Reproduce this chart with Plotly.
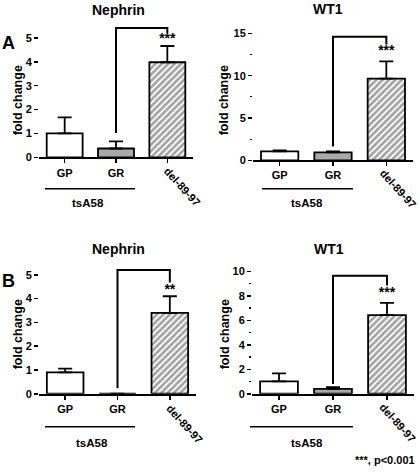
import plotly.graph_objects as go

W, H = 420, 474

# ---------------- data ----------------
categories = ["GP", "GR", "del-89-97"]
group_label = "tsA58"
panel_titles = ["Nephrin", "WT1", "Nephrin", "WT1"]
panel_letters = ["A", "B"]

a_nephrin = [1.00, 0.37, 3.98]
a_nephrin_err = [0.67, 0.30, 0.68]
a_wt1 = [1.05, 0.93, 9.65]
a_wt1_err = [0.11, 0.12, 2.05]
b_nephrin = [0.90, 0.00, 3.40]
b_nephrin_err = [0.16, 0.00, 0.70]
b_wt1 = [1.02, 0.40, 6.43]
b_wt1_err = [0.64, 0.14, 1.00]

# significance bracket heights: left foot (GR), top, right foot (del-89-97)
a_nephrin_bracket = [1.02, 5.41, 5.20]
a_wt1_bracket = [1.63, 14.6, 13.7]
b_nephrin_bracket = [0.23, 5.20, 4.68]
b_wt1_bracket = [0.80, 9.65, 8.85]
star_labels = ["***", "***", "**", "***"]
star_heights = [4.93, 12.9, 4.34, 8.2]

nephrin_ticks = [0, 1, 2, 3, 4, 5]
wt1_a_ticks = [0, 5, 10, 15]
wt1_a_minor = [2.5, 7.5, 12.5]
wt1_b_ticks = [0, 2, 4, 6, 8, 10]
wt1_b_minor = [1, 3, 5, 7, 9]
footnote = "***, p<0.001"

values = [a_nephrin, a_wt1, b_nephrin, b_wt1]
errors = [a_nephrin_err, a_wt1_err, b_nephrin_err, b_wt1_err]
brackets = [a_nephrin_bracket, a_wt1_bracket, b_nephrin_bracket, b_wt1_bracket]
major_ticks = [nephrin_ticks, wt1_a_ticks, nephrin_ticks, wt1_b_ticks]
minor_ticks = [[], wt1_a_minor, [], wt1_b_minor]

# ---------------- layout geometry (pixels) ----------------
# x0, x1, y-zero px, px per unit, range top
geom = [
    (39, 193, 158.0, 24.3, 5.7),
    (253, 413, 161.0, 8.6, 16.0),
    (39, 196, 398.5, 24.2, 5.6),
    (252, 414, 398.5, 12.45, 10.3),
]
title_pos = [(118, 8), (328, 7), (118, 251), (329, 251)]
ytitle_pos = [(18, 100), (224, 100), (18, 338), (225, 338)]
group_line = [(45, 135, 190), (262, 353, 190), (45, 135, 432), (250, 353, 432)]
group_text = [(88, 204), (307, 204), (92, 449), (307, 449)]
label_shift = [(15, -30), (12, -29), (15, -30), (11, -29)]
letter_pos = [(8, 42), (8, 284)]

FONT = "Liberation Sans, Arial, sans-serif"


def px_x(p):
    return p / W


def px_y(p):
    return 1 - p / H


fig = go.Figure()
shapes = []
annotations = []
layout = {}

for i in range(4):
    n = i + 1
    xa = "x" if n == 1 else f"x{n}"
    ya = "y" if n == 1 else f"y{n}"
    xkey = "xaxis" if n == 1 else f"xaxis{n}"
    ykey = "yaxis" if n == 1 else f"yaxis{n}"
    x0, x1, y0, ppu, ytop = geom[i]
    ytop_px = y0 - ppu * ytop
    ymax_px = y0 - ppu * max(major_ticks[i])

    vals = values[i]
    errs = errors[i]
    fig.add_trace(go.Bar(
        x=categories, y=vals, xaxis=xa, yaxis=ya, width=0.7,
        marker=dict(
            color=["white", "#a9a9a9", "white"],
            line=dict(color="black", width=1.8),
            pattern=dict(shape=["", "", "/"], fgcolor="black", bgcolor="white",
                         size=4.5, solidity=0.6),
        ),
        error_y=dict(type="data", symmetric=False, array=errs,
                     arrayminus=[0] * len(errs), color="black",
                     thickness=1.8, width=7),
        showlegend=False, hoverinfo="skip",
    ))
    br = brackets[i]
    fig.add_trace(go.Scatter(
        x=[categories[1], categories[1], categories[2], categories[2]],
        y=[br[0], br[1], br[1], br[2]],
        mode="lines", line=dict(color="black", width=2),
        xaxis=xa, yaxis=ya, showlegend=False, hoverinfo="skip",
    ))
    fig.add_trace(go.Scatter(
        x=[categories[2]], y=[star_heights[i]], text=[star_labels[i]],
        mode="text", textfont=dict(family=FONT, size=14, color="black", weight="bold"),
        textposition="middle center", cliponaxis=False,
        xaxis=xa, yaxis=ya, showlegend=False, hoverinfo="skip",
    ))

    layout[xkey] = dict(
        domain=[px_x(x0), px_x(x1)], anchor=ya, type="category",
        categoryorder="array", categoryarray=categories,
        range=[-0.5, 2.5], showline=True, linecolor="black", linewidth=2,
        ticks="outside", ticklen=4, tickwidth=1.5, tickcolor="black",
        tickvals=categories, ticktext=categories[:2] + [""],
        tickfont=dict(family=FONT, size=11, color="black", weight="bold"),
        showgrid=False, zeroline=False, fixedrange=True,
    )
    minor = dict(ticks="outside", ticklen=2.5, tickwidth=1.2, tickcolor="black",
                 tickvals=minor_ticks[i]) if minor_ticks[i] else dict(ticks="")
    layout[ykey] = dict(
        domain=[px_y(y0), px_y(ytop_px)], anchor=xa, range=[0, ytop],
        showline=False, ticks="outside", ticklen=4, tickwidth=1.5, tickcolor="black",
        tickvals=major_ticks[i], ticktext=[str(t) for t in major_ticks[i]],
        tickfont=dict(family=FONT, size=11, color="black", weight="bold"),
        minor=minor, showgrid=False, zeroline=False, fixedrange=True,
    )
    # spine axis (left axis line up to the top tick only)
    sn = n + 4
    layout[f"yaxis{sn}"] = dict(
        domain=[px_y(y0), px_y(ymax_px)], anchor=xa, range=[0, 1],
        showline=True, linecolor="black", linewidth=2, ticks="",
        showticklabels=False, showgrid=False, zeroline=False, fixedrange=True,
    )

    # titles
    tx, ty = title_pos[i]
    annotations.append(dict(text=f"<b>{panel_titles[i]}</b>", x=px_x(tx), y=px_y(ty),
                            xref="paper", yref="paper", showarrow=False,
                            xanchor="center", yanchor="middle",
                            font=dict(family=FONT, size=14, color="black")))
    fx, fy = ytitle_pos[i]
    annotations.append(dict(text="<b>fold change</b>", x=px_x(fx), y=px_y(fy),
                            xref="paper", yref="paper", showarrow=False, textangle=-90,
                            xanchor="center", yanchor="middle",
                            font=dict(family=FONT, size=12.5, color="black")))
    # rotated category label
    sx, sy = label_shift[i]
    annotations.append(dict(text=f"<b>{categories[2]}</b>", x=categories[2], y=0,
                            xref=xa, yref=ya, showarrow=False, textangle=48,
                            xanchor="center", yanchor="middle", xshift=sx, yshift=sy,
                            font=dict(family=FONT, size=11, color="black")))
    gx0, gx1, gy = group_line[i]
    shapes.append(dict(type="line", xref="paper", yref="paper",
                       x0=px_x(gx0), x1=px_x(gx1), y0=px_y(gy), y1=px_y(gy),
                       line=dict(color="black", width=1.5)))
    gtx, gty = group_text[i]
    annotations.append(dict(text=f"<b>{group_label}</b>", x=px_x(gtx), y=px_y(gty),
                            xref="paper", yref="paper", showarrow=False,
                            xanchor="center", yanchor="middle",
                            font=dict(family=FONT, size=11.5, color="black")))

for k, (lx, ly) in enumerate(letter_pos):
    annotations.append(dict(text=f"<b>{panel_letters[k]}</b>", x=px_x(lx), y=px_y(ly),
                            xref="paper", yref="paper", showarrow=False,
                            xanchor="center", yanchor="middle",
                            font=dict(family=FONT, size=18, color="black")))

annotations.append(dict(text=f"<b>{footnote}</b>", x=px_x(417), y=px_y(466),
                        xref="paper", yref="paper", showarrow=False,
                        xanchor="right", yanchor="middle",
                        font=dict(family=FONT, size=11, color="black")))

fig.update_layout(
    width=W, height=H, margin=dict(l=0, r=0, t=0, b=0),
    paper_bgcolor="white", plot_bgcolor="white",
    shapes=shapes, annotations=annotations, showlegend=False,
    bargap=0.3, **layout,
)

fig.write_html(
    "out.html",
    config={"displayModeBar": False, "staticPlot": True},
    post_script="document.body.style.margin='0';document.body.style.padding='0';"
                "document.body.style.overflow='hidden';",
)
